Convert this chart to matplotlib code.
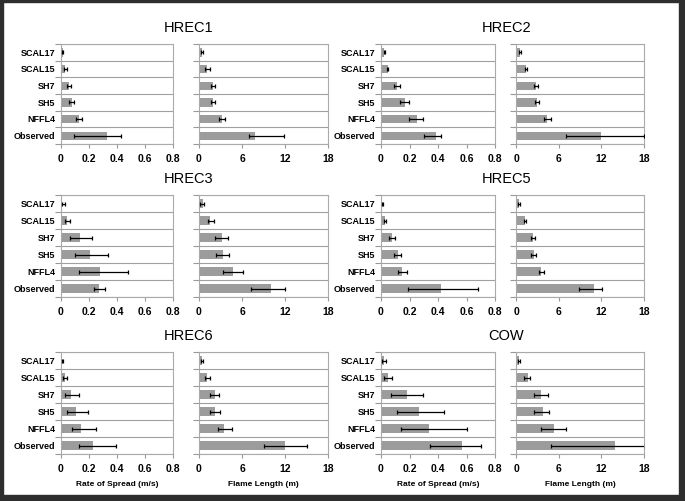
import numpy as np
import matplotlib
matplotlib.use("Agg")
import matplotlib.pyplot as plt
from matplotlib.patches import Rectangle

plt.rcParams['font.family'] = ['Liberation Sans', 'DejaVu Sans']

sites = ['HREC1', 'HREC2', 'HREC3', 'HREC5', 'HREC6', 'COW']
models = ['SCAL17', 'SCAL15', 'SH7', 'SH5', 'NFFL4', 'Observed']

# rate of spread (m/s): bar value, low and high end of error bar
ros = {
    'HREC1': [0.012, 0.028, 0.057, 0.076, 0.126, 0.325],
    'HREC2': [0.023, 0.046, 0.111, 0.165, 0.250, 0.383],
    'HREC3': [0.010, 0.041, 0.134, 0.206, 0.278, 0.270],
    'HREC5': [0.009, 0.026, 0.075, 0.116, 0.146, 0.420],
    'HREC6': [0.010, 0.026, 0.074, 0.107, 0.145, 0.226],
    'COW':   [0.019, 0.052, 0.179, 0.264, 0.339, 0.565],
}
ros_lo = {
    'HREC1': [0.008, 0.020, 0.045, 0.060, 0.105, 0.093],
    'HREC2': [0.018, 0.040, 0.093, 0.135, 0.197, 0.300],
    'HREC3': [0.005, 0.026, 0.067, 0.100, 0.129, 0.235],
    'HREC5': [0.006, 0.018, 0.057, 0.092, 0.118, 0.191],
    'HREC6': [0.006, 0.014, 0.031, 0.043, 0.079, 0.131],
    'COW':   [0.005, 0.024, 0.073, 0.115, 0.141, 0.346],
}
ros_hi = {
    'HREC1': [0.016, 0.040, 0.070, 0.095, 0.150, 0.426],
    'HREC2': [0.028, 0.052, 0.135, 0.197, 0.297, 0.420],
    'HREC3': [0.031, 0.067, 0.218, 0.335, 0.479, 0.311],
    'HREC5': [0.012, 0.034, 0.099, 0.142, 0.184, 0.680],
    'HREC6': [0.014, 0.043, 0.131, 0.190, 0.250, 0.393],
    'COW':   [0.035, 0.075, 0.292, 0.442, 0.602, 0.704],
}

# flame length (m)
fl = {
    'HREC1': [0.42, 1.10, 1.95, 1.95, 3.20, 7.86],
    'HREC2': [0.56, 1.40, 2.80, 2.90, 4.39, 11.9],
    'HREC3': [0.56, 1.54, 3.17, 3.31, 4.80, 9.98],
    'HREC5': [0.42, 1.26, 2.34, 2.52, 3.50, 10.9],
    'HREC6': [0.42, 1.17, 2.19, 2.28, 3.45, 11.98],
    'COW':   [0.42, 1.68, 3.50, 3.73, 5.36, 13.99],
}
fl_lo = {
    'HREC1': [0.30, 0.85, 1.67, 1.67, 2.84, 6.93],
    'HREC2': [0.45, 1.25, 2.57, 2.71, 4.00, 7.10],
    'HREC3': [0.20, 1.21, 2.28, 2.38, 3.40, 7.27],
    'HREC5': [0.30, 1.10, 2.06, 2.15, 3.20, 8.90],
    'HREC6': [0.25, 0.79, 1.54, 1.54, 2.60, 9.09],
    'COW':   [0.22, 1.12, 2.47, 2.47, 3.54, 4.94],
}
fl_hi = {
    'HREC1': [0.55, 1.50, 2.28, 2.30, 3.58, 11.9],
    'HREC2': [0.70, 1.60, 3.04, 3.18, 4.86, 18.0],
    'HREC3': [0.70, 2.05, 4.00, 4.15, 6.20, 11.98],
    'HREC5': [0.55, 1.40, 2.66, 2.85, 3.93, 12.1],
    'HREC6': [0.60, 1.49, 2.84, 2.98, 4.57, 15.06],
    'COW':   [0.62, 2.00, 4.48, 4.71, 7.00, 18.2],
}

W, H = 685, 501
fig = plt.figure(figsize=(W / 100, H / 100), dpi=100)

# panel pixel boxes: (left, width) for columns, (top, height) for rows
cols = [((61, 112), (199, 129)), ((381, 114), (516, 128))]
rows = [(44, 100), (195, 102), (352, 102)]

def px_axes(x, w, y, h):
    return fig.add_axes([x / W, 1 - (y + h) / H, w / W, h / H])

def style(ax, xmax, ticks, labels, show_y, bottom_row, xlabel):
    ax.set_xlim(0, xmax)
    ax.set_ylim(len(models) - 0.5, -0.5)
    ax.set_xticks(ticks)
    ax.set_xticklabels(labels, fontsize=7.5, fontweight='bold')
    ax.set_yticks(np.arange(len(models)))
    if show_y:
        ax.set_yticklabels(models, fontsize=6.5, fontweight='bold')
    else:
        ax.set_yticklabels([])
    ax.set_yticks(np.arange(len(models) + 1) - 0.5, minor=True)
    ax.tick_params(axis='y', which='major', length=0, pad=4)
    ax.tick_params(axis='y', which='minor', length=4, color='#999999', width=0.8)
    ax.tick_params(axis='x', length=3, color='#999999', width=0.8, pad=4)
    ax.grid(axis='y', which='minor', color='#a0a0a0', linewidth=0.8)
    for s in ax.spines.values():
        s.set_color('#aaaaaa')
        s.set_linewidth(0.8)
    if bottom_row:
        ax.set_xlabel(xlabel, fontsize=6, fontweight='bold', labelpad=5)

y = np.arange(len(models))
for i, site in enumerate(sites):
    r, c = i // 2, i % 2
    top, hgt = rows[r]
    (x1, w1), (x2, w2) = cols[c]

    ax1 = px_axes(x1, w1, top, hgt)
    v = np.array(ros[site])
    err = [v - np.array(ros_lo[site]), np.array(ros_hi[site]) - v]
    ax1.barh(y, v, height=0.5, color='#9c9c9c', zorder=2)
    ax1.errorbar(v, y, xerr=err, fmt='none', ecolor='black', elinewidth=0.9,
                 capsize=1.5, capthick=0.9, zorder=3)
    style(ax1, 0.8, [0, 0.2, 0.4, 0.6, 0.8], ['0', '0.2', '0.4', '0.6', '0.8'],
          True, r == 2, 'Rate of Spread (m/s)')

    ax2 = px_axes(x2, w2, top, hgt)
    v = np.array(fl[site])
    err = [v - np.array(fl_lo[site]), np.array(fl_hi[site]) - v]
    ax2.barh(y, v, height=0.5, color='#9c9c9c', zorder=2)
    ax2.errorbar(v, y, xerr=err, fmt='none', ecolor='black', elinewidth=0.9,
                 capsize=1.5, capthick=0.9, zorder=3)
    style(ax2, 18, [0, 6, 12, 18], ['0', '6', '12', '18'],
          False, r == 2, 'Flame Length (m)')

    cx = (x1 + x2 + w2) / 2 - 6
    fig.text(cx / W, 1 - (top - 16) / H, site, ha='center', va='center',
             fontsize=10.5)

# dark frame round the whole picture
frame = '#2e2e2e'
fig.patches.append(Rectangle((0, 0), 3 / W, 1, transform=fig.transFigure, color=frame))
fig.patches.append(Rectangle((0, 1 - 2 / H), 1, 2 / H, transform=fig.transFigure, color=frame))
fig.patches.append(Rectangle((1 - 6 / W, 0), 6 / W, 1, transform=fig.transFigure, color=frame))
fig.patches.append(Rectangle((0, 0), 1, 6 / H, transform=fig.transFigure, color=frame))

fig.savefig('out.png', dpi=100)
